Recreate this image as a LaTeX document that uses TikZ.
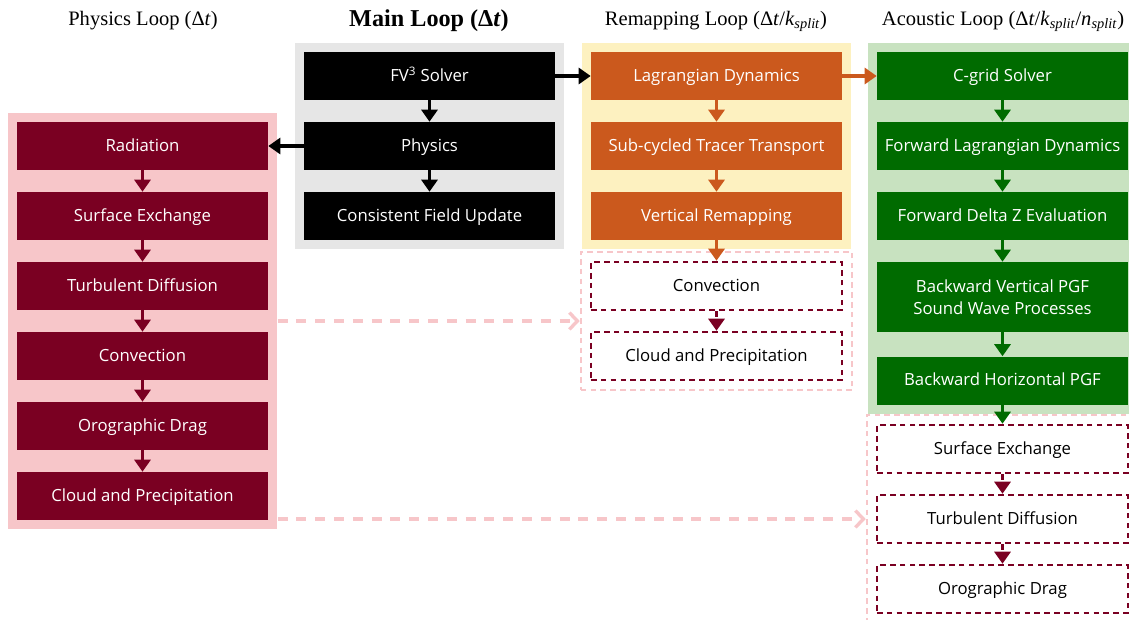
\documentclass[tikz,border=0pt]{standalone}
\usepackage{fontspec}
\setmainfont{Liberation Serif}
\setsansfont{Open Sans}
\usetikzlibrary{arrows.meta,fit,backgrounds}

\definecolor{physred}{HTML}{7A0022}
\definecolor{physbg}{HTML}{F7C6C9}
\definecolor{mainbg}{HTML}{E6E6E6}
\definecolor{remaporange}{HTML}{CB591D}
\definecolor{remapbg}{HTML}{FDF1C0}
\definecolor{acgreen}{HTML}{006B00}
\definecolor{acbg}{HTML}{C8E2C0}

\tikzset{
  proc/.style={minimum width=6.275cm, minimum height=1.2cm, inner sep=0pt,
    font=\sffamily\fontsize{11.9}{15.5}\selectfont, text=white, align=center,
    text height=0.74em, text depth=0em},
  dproc/.style={proc, draw=physred, line width=1.8pt, dash pattern=on 4pt off 3pt, text=black},
  loopbg/.style={inner sep=0.225cm},
  dloop/.style={loopbg, draw=physbg, line width=1.4pt, dash pattern=on 4pt off 3pt},
  flow/.style={line width=2.6pt, -{Triangle[width=0.4cm, length=0.3cm]}},
  dflow/.style={flow, dash pattern=on 4pt off 3pt},
  hop/.style={draw=physbg, line width=2.4pt, dash pattern=on 0.25cm off 0.22cm,
    -{Straight Barb[width=0.42cm, length=0.2cm]}},
  looptitle/.style={font=\fontsize{14.6}{17}\selectfont},
}

\begin{document}
\begin{tikzpicture}[x=0.025cm, y=-0.025cm]
  \useasboundingbox (0,0) rectangle (1129,619);

  % titles
  \node[looptitle] (tphys) at (143,21) {Physics Loop (Δ\textit{t})};
  \node[font=\bfseries\fontsize{17.2}{20}\selectfont] (tmain) at (429,21) {Main Loop (Δ\textit{t})};
  \node[looptitle] (tremap) at (716,21) {Remapping Loop (Δ\textit{t}/\textit{k}\textsubscript{\textit{split}})};
  \node[looptitle] (tac) at (1003,21) {Acoustic Loop (Δ\textit{t}/\textit{k}\textsubscript{\textit{split}}/\textit{n}\textsubscript{\textit{split}})};

  % main loop
  \node[proc, fill=black] (fv) at (429.5,76) {FV\textsuperscript{3} Solver};
  \node[proc, fill=black] (phy) at (429.5,146) {Physics};
  \node[proc, fill=black] (cfu) at (429.5,216) {Consistent Field Update};

  % physics loop
  \node[proc, fill=physred] (rad) at (142.5,146) {Radiation};
  \node[proc, fill=physred] (sfc) at (142.5,216) {Surface Exchange};
  \node[proc, fill=physred] (tbd) at (142.5,286) {Turbulent Diffusion};
  \node[proc, fill=physred] (cnv) at (142.5,356) {Convection};
  \node[proc, fill=physred] (ogd) at (142.5,426) {Orographic Drag};
  \node[proc, fill=physred] (cld) at (142.5,496) {Cloud and Precipitation};

  % remapping loop
  \node[proc, fill=remaporange] (lag) at (716.5,76) {Lagrangian Dynamics};
  \node[proc, fill=remaporange] (trc) at (716.5,146) {Sub-cycled Tracer Transport};
  \node[proc, fill=remaporange] (vrm) at (716.5,216) {Vertical Remapping};
  \node[dproc] (rcnv) at (716.5,286) {Convection};
  \node[dproc] (rcld) at (716.5,356) {Cloud and Precipitation};

  % acoustic loop
  \node[proc, fill=acgreen] (cgr) at (1002.5,76) {C-grid Solver};
  \node[proc, fill=acgreen] (flg) at (1002.5,146) {Forward Lagrangian Dynamics};
  \node[proc, fill=acgreen] (fdz) at (1002.5,216) {Forward Delta Z Evaluation};
  \node[proc, fill=acgreen, minimum height=1.75cm, text height={}, text depth={}] (bvp) at (1002.5,297) {Backward Vertical PGF\\Sound Wave Processes};
  \node[proc, fill=acgreen] (bhp) at (1002.5,380.5) {Backward Horizontal PGF};
  \node[dproc] (asfc) at (1002.5,449) {Surface Exchange};
  \node[dproc] (atbd) at (1002.5,519) {Turbulent Diffusion};
  \node[dproc] (aogd) at (1002.5,589) {Orographic Drag};

  \begin{scope}[on background layer]
    \node[loopbg, fill=physbg, fit=(rad)(cld)] (physbox) {};
    \node[loopbg, fill=mainbg, fit=(fv)(cfu)] (mainbox) {};
    \node[loopbg, fill=remapbg, fit=(lag)(vrm)] (remapbox) {};
    \node[loopbg, fill=acbg, fit=(cgr)(bhp)] (acbox) {};
    \node[dloop, fit=(rcnv)(rcld)] (remapx) {};
    \node[dloop, fit=(asfc)(aogd)] (acx) {};
  \end{scope}

  \draw[flow] (fv)--(phy);
  \draw[flow] (phy)--(cfu);
  \draw[flow] (fv)--(lag);
  \draw[flow] (phy)--(rad);

  \draw[flow, physred] (rad)--(sfc);
  \draw[flow, physred] (sfc)--(tbd);
  \draw[flow, physred] (tbd)--(cnv);
  \draw[flow, physred] (cnv)--(ogd);
  \draw[flow, physred] (ogd)--(cld);

  \draw[flow, remaporange] (lag)--(trc);
  \draw[flow, remaporange] (trc)--(vrm);
  \draw[flow, remaporange] (vrm)--(rcnv);
  \draw[dflow, physred] (rcnv)--(rcld);
  \draw[flow, remaporange] (lag)--(cgr);

  \draw[flow, acgreen] (cgr)--(flg);
  \draw[flow, acgreen] (flg)--(fdz);
  \draw[flow, acgreen] (fdz)--(bvp);
  \draw[flow, acgreen] (bvp)--(bhp);
  \draw[flow, acgreen] (bhp)--(asfc);
  \draw[dflow, physred] (asfc)--(atbd);
  \draw[dflow, physred] (atbd)--(aogd);

  \draw[hop] (physbox.east)--(remapx.west);
  \draw[hop] (physbox.east |- acx.west)--(acx.west);
\end{tikzpicture}
\end{document}
